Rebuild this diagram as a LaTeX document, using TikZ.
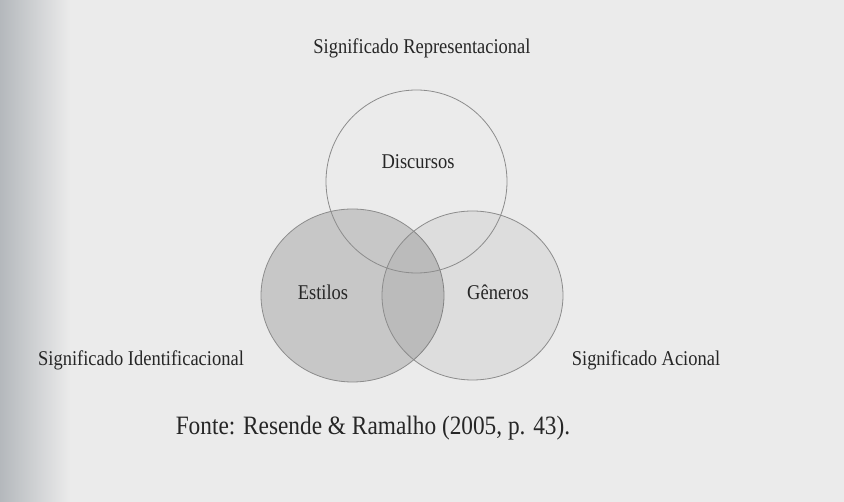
\documentclass[tikz,border=0pt]{standalone}
\usepackage{fontspec}
\setmainfont{Liberation Serif}[FakeStretch=0.88]
\usepackage{tikz}
\usetikzlibrary{shapes.geometric}
\definecolor{papel}{HTML}{EBEBEB}
\definecolor{sombra}{HTML}{B4B8BC}
\definecolor{contorno}{HTML}{8C8C8C}
\newcommand{\tamanho}[1]{\fontsize{#1}{#1}\selectfont}

\begin{document}
\begin{tikzpicture}[x=1pt, y=-1pt, font=\tamanho{21},
  conjunto/.style={ellipse, draw=contorno, line width=0.8pt, inner sep=0pt},
  rotulo/.style={anchor=base, inner sep=0pt, text=black!85}]
  % Fundo
  \fill[papel] (0,0) rectangle (844,502);
  \shade[left color=sombra, right color=papel] (0,0) rectangle (70,502);
  \useasboundingbox (0,0) rectangle (844,502);

  % Conjuntos
  \node[conjunto, fill=black, fill opacity=0.15, minimum width=183, minimum height=173] (estilos) at (352.5,295.5) {};
  \node[conjunto, fill=black, fill opacity=0.06, minimum width=181, minimum height=169] (generos) at (472.5,295.5) {};
  \node[conjunto, minimum width=181, minimum height=183] (discursos) at (416.5,181.5) {};

  % Rotulos
  \node[rotulo] (tdiscursos) at (418,169) {Discursos};
  \node[rotulo] (testilos) at (323,300) {Estilos};
  \node[rotulo] (tgeneros) at (498,300) {Gêneros};
  \node[rotulo] (repres) at (422,54) {Significado Representacional};
  \node[rotulo] (ident) at (141,366) {Significado Identificacional};
  \node[rotulo] (acional) at (646,366) {Significado Acional};
  \node[rotulo, font=\tamanho{26.5}] (fonte) at (373,435) {Fonte: Resende \& Ramalho (2005, p. 43).};
\end{tikzpicture}
\end{document}
